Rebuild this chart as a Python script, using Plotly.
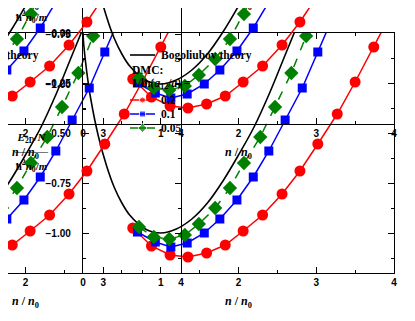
import plotly.graph_objects as go

# Bogoliubov theory curve
bog_n = [0.0, 0.01, 0.05, 0.1, 0.2, 0.3, 0.4, 0.5, 0.6, 0.8, 1.0, 1.2, 1.4, 1.6, 1.8, 2.0, 2.2, 2.4, 2.6, 2.8]
bog_e = [0.0, -0.06, -0.20, -0.33, -0.52, -0.66, -0.77, -0.85, -0.91, -0.98, -1.0, -0.98, -0.93, -0.85, -0.74, -0.61, -0.47, -0.30, -0.11, 0.08]

# DMC points
dmc_a_n = [0.64, 0.88, 1.12, 1.35, 1.59, 1.83, 2.06, 2.31, 2.56, 2.79, 3.02, 3.27, 3.50, 3.74, 3.98]
dmc_a_e = [-0.975, -1.065, -1.11, -1.12, -1.10, -1.06, -0.99, -0.91, -0.805, -0.69, -0.555, -0.405, -0.245, -0.07, 0.11]
dmc_b_n = [0.70, 0.93, 1.13, 1.34, 1.56, 1.76, 1.98, 2.19, 2.39, 2.60, 2.82, 3.02, 3.23]
dmc_b_e = [-0.995, -1.045, -1.07, -1.05, -1.0, -0.93, -0.835, -0.72, -0.59, -0.435, -0.275, -0.095, 0.095]
dmc_c_n = [0.72, 0.91, 1.11, 1.31, 1.49, 1.70, 1.89, 2.07, 2.28, 2.47, 2.68, 2.87, 3.07]
dmc_c_e = [-0.97, -1.02, -1.03, -1.01, -0.955, -0.875, -0.775, -0.65, -0.52, -0.37, -0.2, -0.015, 0.17]

labels = ["0.2", "0.1", "0.05"]
x_range = [0.0, 4.0]
y_range = [-1.2, 0.0]

W, H = 415, 321
OFF = 8  # page margin around the plot div
# panel frame in screen pixels and the offsets of its repeated copies
X0, X1, Y0, Y1 = 83 - OFF, 394 - OFF, 33 - OFF, 273 - OFF
DX, DY = 213, 149

SERIF = "Liberation Serif"
SANS = "Liberation Sans"
TXT = dict(family=SERIF, size=11.5, color="black", weight="bold")

series = [
    (dmc_a_n, dmc_a_e, "red", "circle", 11, 6, "solid"),
    (dmc_b_n, dmc_b_e, "blue", "square", 9, 6, "solid"),
    (dmc_c_n, dmc_c_e, "green", "diamond", 11, 7, "dash"),
]

fig = go.Figure()
layout = {}
annotations = []


def note(px, py, text, font, xanchor="left"):
    annotations.append(dict(
        x=px / W, y=1 - py / H, xref="paper", yref="paper", text=text, showarrow=False,
        xanchor=xanchor, yanchor="middle", align="center", font=font,
    ))


copies = [(0, 0), (1, 0), (0, 1), (1, 1)]
for k, (i, j) in enumerate(copies):
    n = "" if k == 0 else str(k + 1)
    left, right = X0 - i * DX, X1 - i * DX
    top, bottom = Y0 - j * DY, Y1 - j * DY
    lv, tv = max(0, left), max(0, top)
    xlo = x_range[0] + (lv - left) / (right - left) * (x_range[1] - x_range[0])
    yhi = y_range[1] - (tv - top) / (bottom - top) * (y_range[1] - y_range[0])

    layout["xaxis" + n] = dict(
        domain=[lv / W, right / W], range=[xlo, x_range[1]], anchor="y" + n,
        showline=True, linecolor="black", linewidth=1.3,
        mirror="ticks" if top >= 0 else False,
        ticks="inside", ticklen=6, tickwidth=1.2, tickcolor="black",
        tick0=0, dtick=1, showgrid=False, zeroline=False,
        minor=dict(ticks="inside", ticklen=3, tickwidth=1.2, tickcolor="black", tick0=0, dtick=0.5),
        tickfont=dict(family=SANS, size=10, color="black", weight="bold"),
        ticklabelstandoff=0, automargin=False,
    )
    layout["yaxis" + n] = dict(
        domain=[1 - bottom / H, 1 - tv / H], range=[y_range[0], yhi], anchor="x" + n,
        showline=True, linecolor="black", linewidth=1.3,
        side="left" if i == 0 else "right",
        mirror="ticks" if (i == 0 and j == 0) else False,
        showticklabels=(i == 0),
        ticks="inside", ticklen=6, tickwidth=1.2, tickcolor="black",
        tick0=0, dtick=0.25, tickformat=".2f", showgrid=False, zeroline=False,
        minor=dict(ticks="inside", ticklen=3, tickwidth=1.2, tickcolor="black", tick0=0, dtick=0.125),
        tickfont=dict(family=SANS, size=10, color="black", weight="bold"),
        ticklabelstandoff=9, automargin=False,
    )

    fig.add_trace(go.Scatter(
        x=bog_n, y=bog_e, mode="lines", line=dict(color="black", width=1.6, shape="spline"),
        name="Bogoliubov theory", xaxis="x" + n, yaxis="y" + n, showlegend=False,
    ))
    for sx, sy, col, sym, size, _, dash in series:
        fig.add_trace(go.Scatter(
            x=sx, y=sy, mode="lines+markers",
            line=dict(color=col, width=1.5, dash=dash), marker=dict(symbol=sym, size=size, color=col),
            xaxis="x" + n, yaxis="y" + n, showlegend=False,
        ))

# hand-drawn legend on a hidden overlay axis in pixel units
layout["xaxis5"] = dict(domain=[0, 1], range=[0, W], visible=False, anchor="y5")
layout["yaxis5"] = dict(domain=[0, 1], range=[H, 0], visible=False, anchor="x5")
LX0, LX1 = 130 - OFF, 155 - OFF
rows = [55, 70, 84, 100, 114, 128]
for i in range(2):
    sx0, sx1 = LX0 - i * DX, LX1 - i * DX
    ry = [r - OFF for r in rows]
    fig.add_trace(go.Scatter(
        x=[sx0, sx1], y=[ry[0], ry[0]], mode="lines", line=dict(color="black", width=1.6),
        xaxis="x5", yaxis="y5", showlegend=False, hoverinfo="skip",
    ))
    for (_, _, col, sym, _, lsize, _), r, name in zip(series, ry[3:], labels):
        fig.add_trace(go.Scatter(
            x=[sx0, (sx0 + sx1) / 2, sx1], y=[r, r, r], mode="lines+markers",
            line=dict(color=col, width=1.5), marker=dict(symbol=sym, size=[0, lsize, 0], color=col),
            xaxis="x5", yaxis="y5", showlegend=False, hoverinfo="skip",
        ))
        note(sx1 + 4, r, name, TXT)
    note(sx1 + 4, ry[0], "Bogoliubov theory", TXT)
    note(sx0, ry[1], "DMC:", TXT)
    note(sx0, ry[2], "1/ln(<i>a</i><sub>12</sub>/<i>a</i>) =", TXT)

# axis titles of every copy (the third row only shows its x title)
XT = dict(family=SERIF, size=12, color="black", weight="bold")
YT = dict(family=SERIF, size=11, color="black", weight="bold")
for i in range(2):
    cx = (X0 + X1) / 2 - i * DX
    for j in range(3):
        note(cx, 302 - OFF - j * DY, "<i>n</i> / <i>n</i><sub>0</sub>", XT, "center")
    for j in range(2):
        note(31 - OFF - i * DX, 152 - OFF - j * DY,
             "<i>E</i><sub>2D</sub>/<i>N</i><br>―――<br>ħ<sup>2</sup><i>n</i><sub>0</sub>/<i>m</i>",
             YT, "center")

fig.update_layout(
    width=W, height=H,
    margin=dict(l=0, r=0, t=0, b=0, autoexpand=False),
    paper_bgcolor="white", plot_bgcolor="rgba(0,0,0,0)",
    template="none", showlegend=False,
    annotations=annotations,
    **layout,
)

fig.write_html("out.html")
